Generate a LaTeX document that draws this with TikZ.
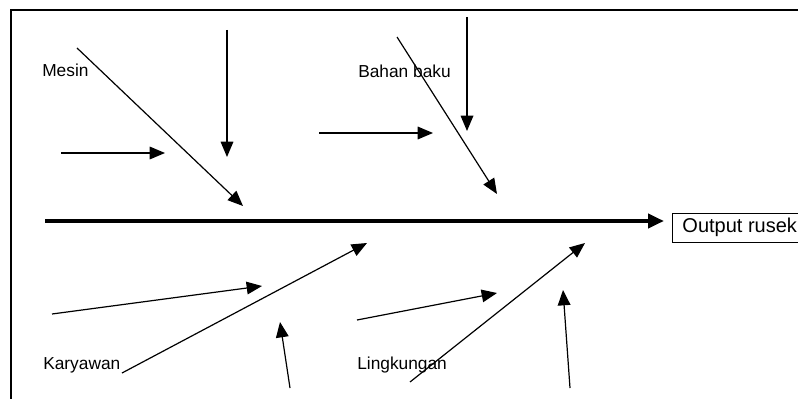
\documentclass[tikz,border=0pt]{standalone}
\usepackage{fontspec}
\setmainfont{Liberation Sans}
\usetikzlibrary{arrows.meta}
\begin{document}
\begin{tikzpicture}[x=0.75pt,y=-0.75pt,
  bone/.style={line width=0.9pt,-{Triangle[length=11.5pt,width=9.5pt]}},
  spine/.style={line width=3pt,-{Triangle[length=12pt,width=10.5pt]}},
  cause/.style={font=\fontsize{13}{15}\selectfont,anchor=base west,inner sep=0pt},
  effect/.style={draw,line width=0.7pt,font=\fontsize{15}{17}\selectfont,
    anchor=west,inner xsep=7.5pt,inner ysep=0pt,minimum height=21.75pt},
]
\useasboundingbox (0,0) rectangle (798,399);
% frame
\draw[line width=1.1pt] (11,399) -- (11,10) -- (798,10);

% head and spine
\node[effect] (out) at (672,227.5) {Output rusek};
\coordinate (tail) at (45,221);
\draw[spine,shorten >=6pt] (tail) -- (tail -| out.west);

% category labels
\node[cause] (mesin) at (42,77) {Mesin};
\node[cause] (bahan) at (358,78) {Bahan baku};
\node[cause] (kary) at (43,369) {Karyawan};
\node[cause] (ling) at (357,369) {Lingkungan};

% Mesin branch
\coordinate (m0) at (77,48);   \coordinate (m1) at (243,206);
\coordinate (m2) at (227,30);  \coordinate (m3) at (227,157);
\coordinate (m4) at (61,153);  \coordinate (m5) at (165,153);
\draw[bone] (m0) -- (m1);
\draw[bone] (m2) -- (m3);
\draw[bone] (m4) -- (m5);

% Bahan baku branch
\coordinate (b0) at (397,37);  \coordinate (b1) at (497,194);
\coordinate (b2) at (467,17);  \coordinate (b3) at (467,131);
\coordinate (b4) at (319,133); \coordinate (b5) at (433,133);
\draw[bone] (b0) -- (b1);
\draw[bone] (b2) -- (b3);
\draw[bone] (b4) -- (b5);

% Karyawan branch
\coordinate (k0) at (122,373); \coordinate (k1) at (367,243);
\coordinate (k2) at (52,314);  \coordinate (k3) at (262,286);
\coordinate (k4) at (290,388); \coordinate (k5) at (280,322);
\draw[bone] (k0) -- (k1);
\draw[bone] (k2) -- (k3);
\draw[bone] (k4) -- (k5);

% Lingkungan branch
\coordinate (l0) at (410,382); \coordinate (l1) at (585,243);
\coordinate (l2) at (357,320); \coordinate (l3) at (497,293);
\coordinate (l4) at (570,388); \coordinate (l5) at (563,290);
\draw[bone] (l0) -- (l1);
\draw[bone] (l2) -- (l3);
\draw[bone] (l4) -- (l5);
\end{tikzpicture}
\end{document}
